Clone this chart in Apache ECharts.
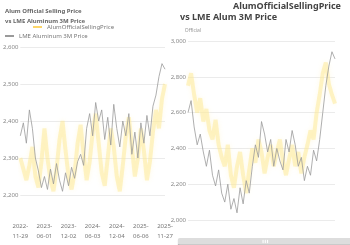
<!DOCTYPE html>
<html><head><meta charset="utf-8">
<script src="https://cdn.jsdelivr.net/npm/echarts@6/dist/echarts.min.js"></script>
<style>html,body{margin:0;padding:0;background:#fff}#c{width:350px;height:245px}</style>
</head><body><div id="c"></div>
<script>
const dates = ["2022-11-29","2022-12-22","2023-01-14","2023-02-06","2023-03-01","2023-03-24","2023-04-16","2023-05-09","2023-06-01","2023-06-24","2023-07-17","2023-08-09","2023-09-01","2023-09-24","2023-10-17","2023-11-09","2023-12-02","2023-12-25","2024-01-17","2024-02-09","2024-03-03","2024-03-26","2024-04-18","2024-05-11","2024-06-03","2024-06-26","2024-07-19","2024-08-11","2024-09-03","2024-09-26","2024-10-19","2024-11-11","2024-12-04","2024-12-27","2025-01-19","2025-02-11","2025-03-06","2025-03-29","2025-04-21","2025-05-14","2025-06-06","2025-06-29","2025-07-22","2025-08-14","2025-09-06","2025-09-29","2025-10-22","2025-11-14","2025-11-27"];
const officialLeft = [2300,2270,2240,2280,2330,2250,2220,2290,2380,2300,2240,2210,2270,2350,2400,2320,2250,2215,2260,2340,2390,2310,2240,2290,2370,2420,2340,2260,2225,2300,2380,2330,2250,2210,2280,2360,2410,2330,2250,2300,2380,2320,2240,2290,2370,2430,2380,2460,2500];
const lmeLeft = [2360,2395,2340,2430,2380,2300,2265,2220,2250,2215,2270,2230,2285,2240,2210,2260,2225,2275,2245,2290,2310,2280,2380,2420,2360,2450,2400,2430,2350,2410,2335,2445,2380,2330,2400,2360,2420,2310,2370,2300,2395,2340,2415,2360,2440,2470,2520,2555,2540];
const officialRight = [2750,2820,2700,2600,2680,2550,2620,2500,2450,2560,2420,2350,2300,2420,2250,2180,2300,2380,2250,2150,2280,2400,2320,2450,2380,2260,2350,2420,2300,2380,2450,2330,2250,2340,2420,2300,2380,2260,2350,2420,2500,2450,2600,2700,2820,2880,2760,2700,2650];
const lmeRight = [2600,2667,2520,2420,2480,2380,2300,2390,2250,2190,2280,2150,2100,2200,2060,2120,2040,2180,2090,2220,2150,2300,2420,2350,2550,2480,2380,2450,2300,2400,2330,2280,2450,2380,2500,2420,2300,2350,2220,2300,2250,2390,2330,2450,2600,2750,2860,2940,2900];
const nameOfficial = "AlumOfficialSellingPrice";
const nameLme = "LME Aluminum 3M Price";

const yellowStyle = {color:'#fde68a', width:4, opacity:0.45, shadowBlur:5, shadowColor:'#fef3c7'};
const grayStyle = {color:'#9a9a9a', width:0.8};
const chart = echarts.init(document.getElementById('c'));
chart.setOption({
  animation:false,
  textStyle:{fontFamily:'Noto Sans'},
  title:[
    {text:'Alum Official Selling Price\nvs LME Aluminum 3M Price', left:0, top:1, textStyle:{fontSize:6, fontWeight:'bold', color:'#666', lineHeight:10}},
    {text:nameOfficial, left:228, top:-3, textStyle:{fontSize:9, fontWeight:'bold', color:'#444'}},
    {text:'vs LME Alum 3M Price', left:175, top:8, textStyle:{fontSize:9, fontWeight:'bold', color:'#444'}}
  ],
  legend:[
    {data:[nameOfficial], left:28, top:19, itemWidth:9, itemHeight:2, itemGap:4, textStyle:{fontSize:6, color:'#777'}, icon:'rect'},
    {data:[nameLme], left:0, top:28, itemWidth:9, itemHeight:2, textStyle:{fontSize:6, color:'#777'}, icon:'rect'}
  ],
  grid:[
    {left:12, right:185, top:47, bottom:50},
    {left:188, right:15, top:41, bottom:25}
  ],
  xAxis:[
    {type:'category', gridIndex:0, data:dates, boundaryGap:false,
     axisLine:{show:false}, axisTick:{show:false},
     axisLabel:{fontSize:6, color:'#777', margin:26, interval:7, lineHeight:10,
       formatter:v=>v.slice(0,5)+'\n'+v.slice(5)}},
    {type:'category', gridIndex:1, data:dates, boundaryGap:false,
     axisLine:{show:false}, axisTick:{show:false}, axisLabel:{show:false}}
  ],
  yAxis:[
    {type:'value', gridIndex:0, min:2200, max:2600, interval:100,
     axisLabel:{fontSize:6, color:'#888', margin:2}, splitLine:{lineStyle:{color:'#ebebeb'}}},
    {type:'value', gridIndex:1, min:2000, max:3000, interval:200, name:'Official',
     nameTextStyle:{fontSize:5, color:'#999', padding:[0,0,0,10]}, nameGap:8,
     axisLabel:{fontSize:6, color:'#888', margin:2}, splitLine:{lineStyle:{color:'#ebebeb'}}}
  ],
  dataZoom:[{type:'slider', xAxisIndex:1, left:175, right:0, top:238, height:14,
    showDetail:false, borderColor:'#ccc', backgroundColor:'#e6e6e6',
    fillerColor:'rgba(170,170,170,0.35)',
    handleStyle:{color:'#bbb', borderColor:'#999'},
    moveHandleStyle:{color:'#bbb'},
    dataBackground:{lineStyle:{color:'#aaa'}, areaStyle:{color:'#ccc'}},
    selectedDataBackground:{lineStyle:{color:'#999'}, areaStyle:{color:'#bbb'}}}],
  series:[
    {name:nameOfficial, type:'line', xAxisIndex:0, yAxisIndex:0, data:officialLeft, symbol:'none', lineStyle:yellowStyle, itemStyle:{color:'#fcd66a'}},
    {name:nameLme, type:'line', xAxisIndex:0, yAxisIndex:0, data:lmeLeft, symbol:'none', lineStyle:grayStyle, itemStyle:{color:'#9a9a9a'}},
    {name:nameOfficial, type:'line', xAxisIndex:1, yAxisIndex:1, data:officialRight, symbol:'none', lineStyle:yellowStyle},
    {name:nameLme, type:'line', xAxisIndex:1, yAxisIndex:1, data:lmeRight, symbol:'none', lineStyle:grayStyle}
  ]
});
</script></body></html>
